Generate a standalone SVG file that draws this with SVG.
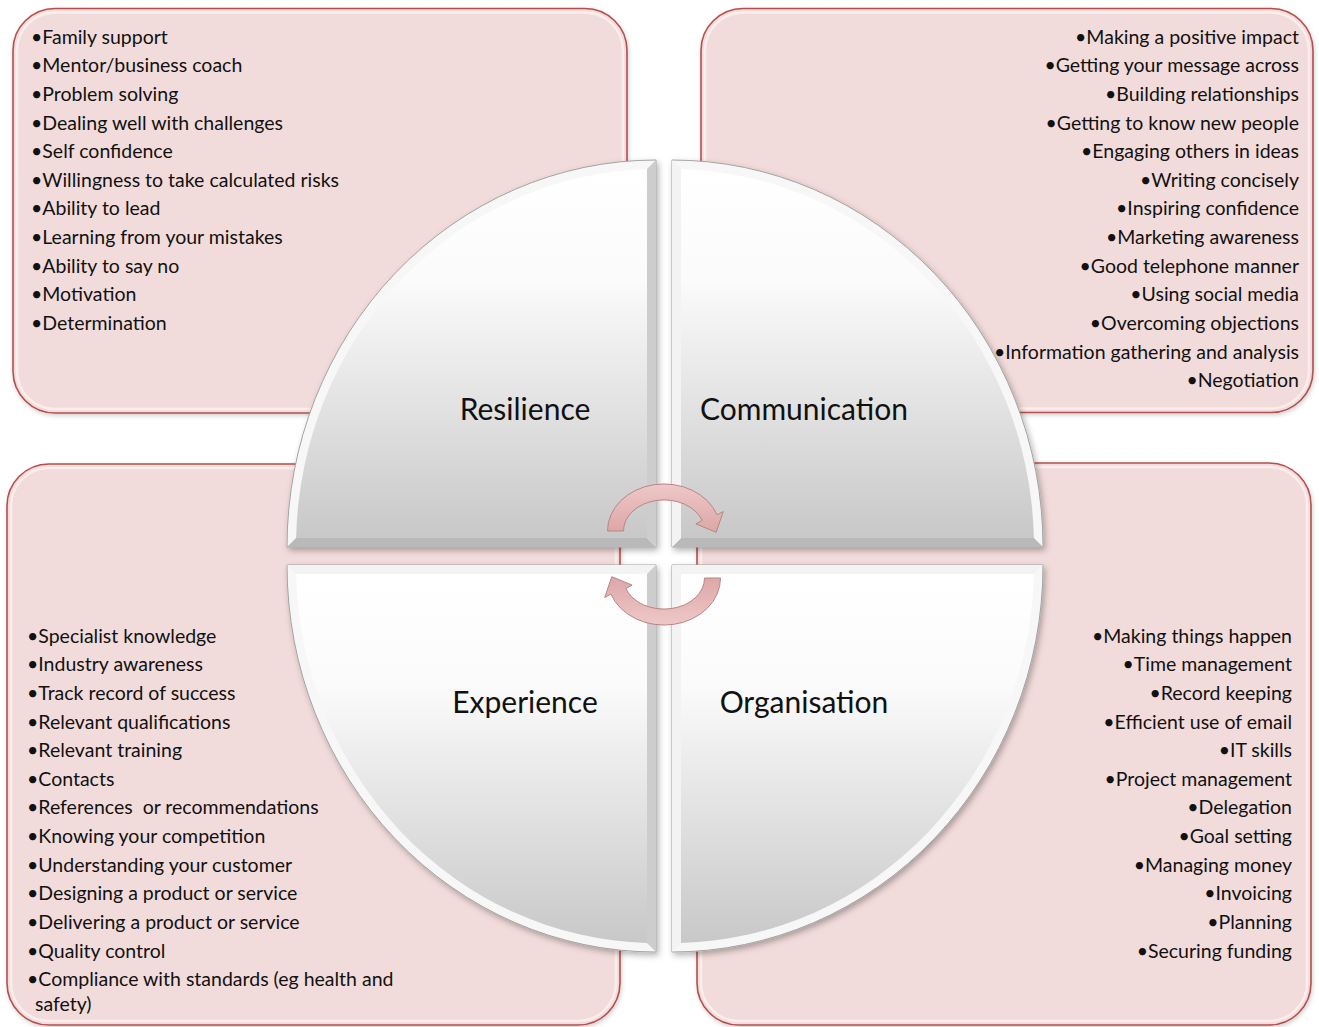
<svg xmlns="http://www.w3.org/2000/svg" width="1319" height="1027" viewBox="0 0 1319 1027">
  <defs>
    <style>
      .box { fill: #f2dcdb; stroke: #b4504d; stroke-width: 1.6; }
      .box-glow { fill: none; stroke: #fbeeee; stroke-width: 2.5; opacity: 0.9; }
      .list { font-family: Lato, "Liberation Sans", sans-serif; font-size: 19.5px; fill: #111; }
      .right { text-anchor: end; }
      .label { font-family: Lato, "Liberation Sans", sans-serif; font-size: 30px; fill: #111; text-anchor: middle; }
      .rim { fill: #f7f7f7; stroke: #a3a3a3; stroke-width: 1; }
      .face-top { fill: url(#faceGrad); }
      .dark { fill: #b9b9b9; }
      .mid { fill: #cdcdcd; }
      .light { fill: #f3f3f3; }
      .cycle { fill: url(#arrowGrad); stroke: #b78686; stroke-width: 1; }
    </style>
    <linearGradient id="faceGrad" x1="0" y1="0" x2="0" y2="1">
      <stop offset="0" stop-color="#ffffff"/>
      <stop offset="0.3" stop-color="#fbfbfb"/>
      <stop offset="1" stop-color="#c8c8c8"/>
    </linearGradient>
    <linearGradient id="arrowGrad" x1="0" y1="0" x2="0" y2="1">
      <stop offset="0" stop-color="#efc8c8"/>
      <stop offset="1" stop-color="#dca6a6"/>
    </linearGradient>
    <filter id="shadow" x="-10%" y="-10%" width="120%" height="120%">
      <feDropShadow dx="2" dy="3" stdDeviation="3" flood-color="#000" flood-opacity="0.3"/>
    </filter>
    <filter id="softShadow" x="-5%" y="-5%" width="110%" height="110%">
      <feDropShadow dx="1" dy="2" stdDeviation="2" flood-color="#000" flood-opacity="0.18"/>
    </filter>
  </defs>

  <!-- Background -->
  <rect x="0" y="0" width="1319" height="1027" fill="#ffffff"/>

  <!-- Text panels behind the wheel -->
  <g id="panel-resilience">
    <rect class="box" x="13" y="8.5" width="614" height="404.5" rx="42" filter="url(#softShadow)"/>
    <rect class="box-glow" x="17" y="12.5" width="606" height="396.5" rx="38"/>
    <g class="list">
      <text x="31" y="43.5">•Family support</text>
      <text x="31" y="72.2">•Mentor/business coach</text>
      <text x="31" y="100.8">•Problem solving</text>
      <text x="31" y="129.5">•Dealing well with challenges</text>
      <text x="31" y="158.1">•Self confidence</text>
      <text x="31" y="186.8">•Willingness to take calculated risks</text>
      <text x="31" y="215.4">•Ability to lead</text>
      <text x="31" y="244.1">•Learning from your mistakes</text>
      <text x="31" y="272.7">•Ability to say no</text>
      <text x="31" y="301.4">•Motivation</text>
      <text x="31" y="330">•Determination</text>
    </g>
  </g>

  <g id="panel-communication">
    <rect class="box" x="701" y="8.5" width="612" height="404" rx="42" filter="url(#softShadow)"/>
    <rect class="box-glow" x="705" y="12.5" width="604" height="396" rx="38"/>
    <g class="list right">
      <text x="1299" y="43.5">•Making a positive impact</text>
      <text x="1299" y="72.2">•Getting your message across</text>
      <text x="1299" y="100.8">•Building relationships</text>
      <text x="1299" y="129.5">•Getting to know new people</text>
      <text x="1299" y="158.1">•Engaging others in ideas</text>
      <text x="1299" y="186.8">•Writing concisely</text>
      <text x="1299" y="215.4">•Inspiring confidence</text>
      <text x="1299" y="244.1">•Marketing awareness</text>
      <text x="1299" y="272.7">•Good telephone manner</text>
      <text x="1299" y="301.4">•Using social media</text>
      <text x="1299" y="330">•Overcoming objections</text>
      <text x="1299" y="358.7">•Information gathering and analysis</text>
      <text x="1299" y="387.3">•Negotiation</text>
    </g>
  </g>

  <g id="panel-experience">
    <rect class="box" x="7" y="464" width="613" height="561" rx="42" filter="url(#softShadow)"/>
    <rect class="box-glow" x="11" y="468" width="605" height="553" rx="38"/>
    <g class="list">
      <text x="27" y="642.5">•Specialist knowledge</text>
      <text x="27" y="671.2">•Industry awareness</text>
      <text x="27" y="699.8">•Track record of success</text>
      <text x="27" y="728.5">•Relevant qualifications</text>
      <text x="27" y="757.1">•Relevant training</text>
      <text x="27" y="785.8">•Contacts</text>
      <text x="27" y="814.4" xml:space="preserve">•References  or recommendations</text>
      <text x="27" y="843.1">•Knowing your competition</text>
      <text x="27" y="871.7">•Understanding your customer</text>
      <text x="27" y="900.4">•Designing a product or service</text>
      <text x="27" y="929">•Delivering a product or service</text>
      <text x="27" y="957.7">•Quality control</text>
      <text x="27" y="986.3">•Compliance with standards (eg health and</text>
      <text x="35" y="1010.5">safety)</text>
    </g>
  </g>

  <g id="panel-organisation">
    <rect class="box" x="697" y="463" width="614" height="562" rx="42" filter="url(#softShadow)"/>
    <rect class="box-glow" x="701" y="467" width="606" height="554" rx="38"/>
    <g class="list right">
      <text x="1292" y="642.5">•Making things happen</text>
      <text x="1292" y="671.2">•Time management</text>
      <text x="1292" y="699.8">•Record keeping</text>
      <text x="1292" y="728.5">•Efficient use of email</text>
      <text x="1292" y="757.1">•IT skills</text>
      <text x="1292" y="785.8">•Project management</text>
      <text x="1292" y="814.4">•Delegation</text>
      <text x="1292" y="843.1">•Goal setting</text>
      <text x="1292" y="871.7">•Managing money</text>
      <text x="1292" y="900.4">•Invoicing</text>
      <text x="1292" y="929">•Planning</text>
      <text x="1292" y="957.7">•Securing funding</text>
    </g>
  </g>

  <!-- Wheel quadrants: bevelled quarter ellipses -->
  <g id="quadrant-resilience">
    <path class="rim" d="M656,547 L287,547 A369,387 0 0 1 656,160 Z" filter="url(#shadow)"/>
    <polygon class="dark" points="287,547 656,547 647,538 296.1,538"/>
    <polygon class="mid" points="656,547 656,160 647,169.1 647,538"/>
    <path class="face-top" d="M647,538 L296.1,538 A360,378 0 0 1 647,169.1 Z"/>
    <text class="label" x="525" y="420">Resilience</text>
  </g>

  <g id="quadrant-communication">
    <path class="rim" d="M672,547 L672,160 A371,387 0 0 1 1043,547 Z" filter="url(#shadow)"/>
    <polygon class="dark" points="672,547 1043,547 1033.9,538 681,538"/>
    <polygon class="light" points="672,547 672,160 681,169.1 681,538"/>
    <path class="face-top" d="M681,538 L681,169.1 A362,378 0 0 1 1033.9,538 Z"/>
    <text class="label" x="804" y="420">Communication</text>
  </g>

  <g id="quadrant-experience">
    <path class="rim" d="M656,565 L656,952 A369,387 0 0 1 287,565 Z" filter="url(#shadow)"/>
    <polygon class="light" points="287,565 656,565 647,574 296.1,574"/>
    <polygon class="mid" points="656,565 656,952 647,942.9 647,574"/>
    <path class="face-top" d="M647,574 L647,942.9 A360,378 0 0 1 296.1,574 Z"/>
    <text class="label" x="525" y="713">Experience</text>
  </g>

  <g id="quadrant-organisation">
    <path class="rim" d="M672,565 L1043,565 A371,387 0 0 1 672,952 Z" filter="url(#shadow)"/>
    <polygon class="light" points="672,565 1043,565 1033.9,574 681,574"/>
    <polygon class="light" points="672,565 672,952 681,942.9 681,574"/>
    <path class="face-top" d="M681,574 L1033.9,574 A362,378 0 0 1 681,942.9 Z"/>
    <text class="label" x="804" y="713">Organisation</text>
  </g>

  <!-- Circular arrows in the hub -->
  <g id="connectors">
    <path id="cycle-top" class="cycle" d="M607.5,531 A56.5,47 0 0 1 717.1,514.9 L723.3,511.5 L716.2,532.3 L695.9,523.9 L702.1,520.4 A40.5,31 0 0 0 623.5,531 Z"/>
    <path id="cycle-bottom" class="cycle" transform="rotate(180 664 554.5)" d="M607.5,531 A56.5,47 0 0 1 717.1,514.9 L723.3,511.5 L716.2,532.3 L695.9,523.9 L702.1,520.4 A40.5,31 0 0 0 623.5,531 Z"/>
  </g>
</svg>
